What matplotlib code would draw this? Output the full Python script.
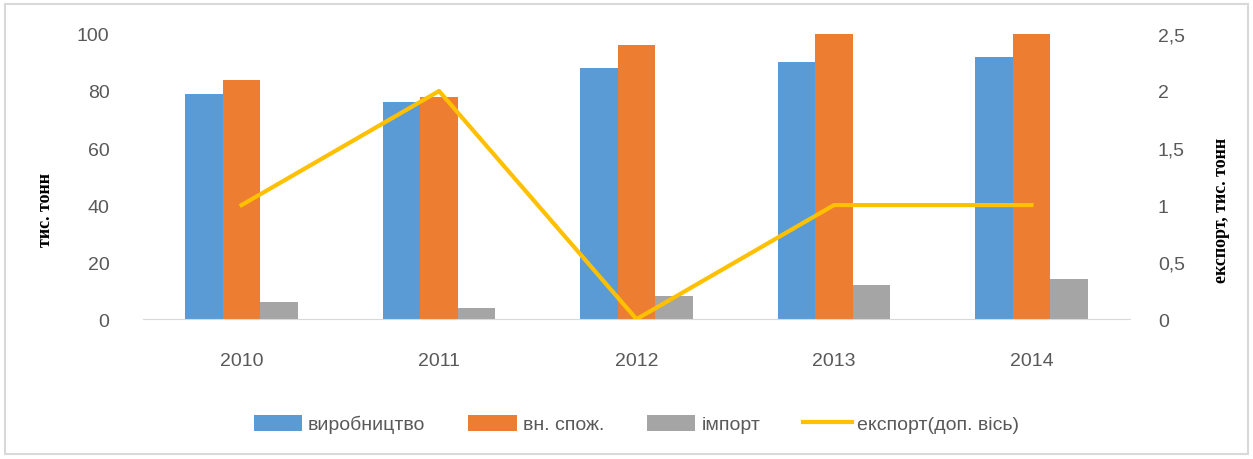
import matplotlib

matplotlib.use("Agg")
import matplotlib.pyplot as plt
import numpy as np
from matplotlib.patches import Rectangle
from matplotlib.ticker import FuncFormatter

years = ["2010", "2011", "2012", "2013", "2014"]
production = [79, 76, 88, 90, 92]
consumption = [84, 78, 96, 100, 100]
imports = [6, 4, 8, 12, 14]
exports = [1, 2, 0, 1, 1]

plt.rcParams["font.family"] = ["Liberation Sans", "DejaVu Sans"]

fig = plt.figure(figsize=(12.53, 4.60), dpi=100)
ax = fig.add_axes([0.114, 0.304, 0.788, 0.62])
ax2 = ax.twinx()

x = np.arange(len(years))
w = 0.19
ax.bar(x - w, production, w, color="#5b9bd5", label="виробництво")
ax.bar(x, consumption, w, color="#ed7d31", label="вн. спож.")
ax.bar(x + w, imports, w, color="#a5a5a5", label="імпорт")
ax2.plot(x, exports, color="#ffc000", lw=3, label="експорт(доп. вісь)")

ax.set_xlim(-0.5, len(years) - 0.5)
ax.set_ylim(0, 100)
ax.set_yticks(range(0, 101, 20))
ax2.set_ylim(0, 2.5)
ax2.set_yticks([0, 0.5, 1, 1.5, 2, 2.5])
ax2.yaxis.set_major_formatter(FuncFormatter(lambda v, _: f"{v:g}".replace(".", ",")))
ax.set_xticks(x)
ax.set_xticklabels(years)

for a in (ax, ax2):
    for s in a.spines.values():
        s.set_visible(False)
    a.tick_params(length=0, colors="#595959", labelsize=14)
ax.spines["bottom"].set_visible(True)
ax.spines["bottom"].set_color("#d9d9d9")
ax.tick_params(axis="y", pad=24)
ax.tick_params(axis="x", pad=24)
ax2.tick_params(axis="y", pad=20)

serif = ["Liberation Serif", "DejaVu Serif"]
ax.set_ylabel("тис. тонн", fontsize=13, fontweight="bold", family=serif)
ax.yaxis.set_label_coords(-0.09, 0.386)
ax2.set_ylabel("експорт, тис. тонн", fontsize=13, fontweight="bold", family=serif)
ax2.yaxis.set_label_coords(1.084, 0.386)

h1, l1 = ax.get_legend_handles_labels()
h2, l2 = ax2.get_legend_handles_labels()
fig.legend(h1 + h2, l1 + l2, loc="center", bbox_to_anchor=(0.508, 0.076), ncol=4,
           frameon=False, fontsize=14, labelcolor="#595959", handlelength=2.5,
           handleheight=0.9, columnspacing=2.2, handletextpad=0.3)

fig.patches.append(Rectangle((0.004, 0.01), 0.992, 0.98, transform=fig.transFigure,
                             fill=False, edgecolor="#d9d9d9", lw=1.5))

fig.savefig("out.png", dpi=100)
